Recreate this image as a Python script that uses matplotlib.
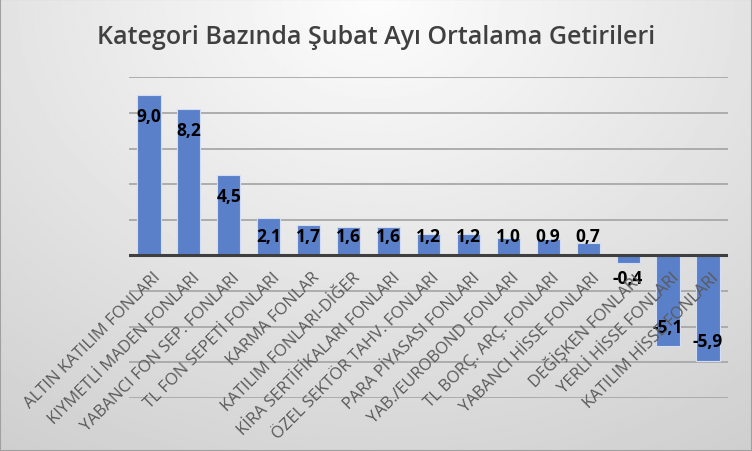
import numpy as np
import matplotlib.pyplot as plt
from matplotlib.patches import Rectangle

categories = [
    "ALTIN KATILIM FONLARI",
    "KIYMETLİ MADEN FONLARI",
    "YABANCI FON SEP. FONLARI",
    "TL FON SEPETİ FONLARI",
    "KARMA FONLAR",
    "KATILIM FONLARI-DİĞER",
    "KİRA SERTİFİKALARI FONLARI",
    "ÖZEL SEKTÖR TAHV. FONLARI",
    "PARA PİYASASI FONLARI",
    "YAB./EUROBOND FONLARI",
    "TL BORÇ. ARÇ. FONLARI",
    "YABANCI HİSSE FONLARI",
    "DEĞİŞKEN FONLARI",
    "YERLİ HİSSE FONLARI",
    "KATILIM HİSSE FONLARI",
]
returns = [9.0, 8.2, 4.5, 2.1, 1.7, 1.6, 1.6, 1.2, 1.2, 1.0, 0.9, 0.7, -0.4, -5.1, -5.9]

title = "Kategori Bazında Şubat Ayı Ortalama Getirileri"

fig = plt.figure(figsize=(7.52, 4.52), dpi=100)

# radial grey background like the Excel chart area
bg = fig.add_axes([0, 0, 1, 1], zorder=-10)
yy, xx = np.mgrid[0:1:300j, 0:1:500j]
r = np.sqrt(((xx - 0.5) / 0.75) ** 2 + (yy / 1.0) ** 2)
shade = 0.99 - 0.18 * np.clip(r, 0, 1.2) / 1.2
bg.imshow(shade, cmap="gray", vmin=0, vmax=1, aspect="auto",
          extent=[0, 1, 1, 0], interpolation="bilinear")
bg.set_xlim(0, 1)
bg.set_ylim(1, 0)
bg.axis("off")
fig.patches.append(Rectangle((0, 0), 1, 1, transform=fig.transFigure,
                             fill=False, edgecolor="#a0a0a0", lw=1.5))

ax = fig.add_axes([0.1715, 0.117, 0.7965, 0.71])
ax.set_facecolor("none")
x = np.arange(len(categories))
ax.bar(x, returns, width=0.58, color="#5B80CA", edgecolor="#d5def0",
       linewidth=0.8, zorder=3)

ax.set_ylim(-8, 10)
ax.set_xlim(-0.5, len(categories) - 0.5)
ax.set_yticks(np.arange(-8, 11, 2))
ax.yaxis.grid(True, color="#a8a8a8", lw=1.3, zorder=0)
ax.tick_params(axis="y", left=False, labelleft=False)
ax.tick_params(axis="x", bottom=False, labelbottom=False)
for s in ax.spines.values():
    s.set_visible(False)
ax.axhline(0, color="#3f3f3f", lw=2.2, zorder=4)

# value labels (inside end, Excel style)
for xi, v in zip(x, returns):
    if v >= 0:
        ypos = max(v - 1.15, 1.1)
    else:
        ypos = min(v + 1.1, -1.25)
    ax.text(xi, ypos, f"{v:.1f}".replace(".", ","), ha="center", va="center",
            fontsize=12.5, fontweight="bold", color="black",
            family="Open Sans", zorder=5)

# rotated category labels anchored at the bar
for xi, lab in zip(x, categories):
    ax.text(xi + 0.08, -0.75, lab, rotation=45, ha="right", va="top",
            rotation_mode="anchor", fontsize=12, color="#595959",
            family="Open Sans", zorder=6)

fig.text(0.5, 0.916, title, ha="center", va="center", fontsize=18,
         fontweight="semibold", color="#404040", family="Open Sans")

fig.savefig("out.png", dpi=100)
